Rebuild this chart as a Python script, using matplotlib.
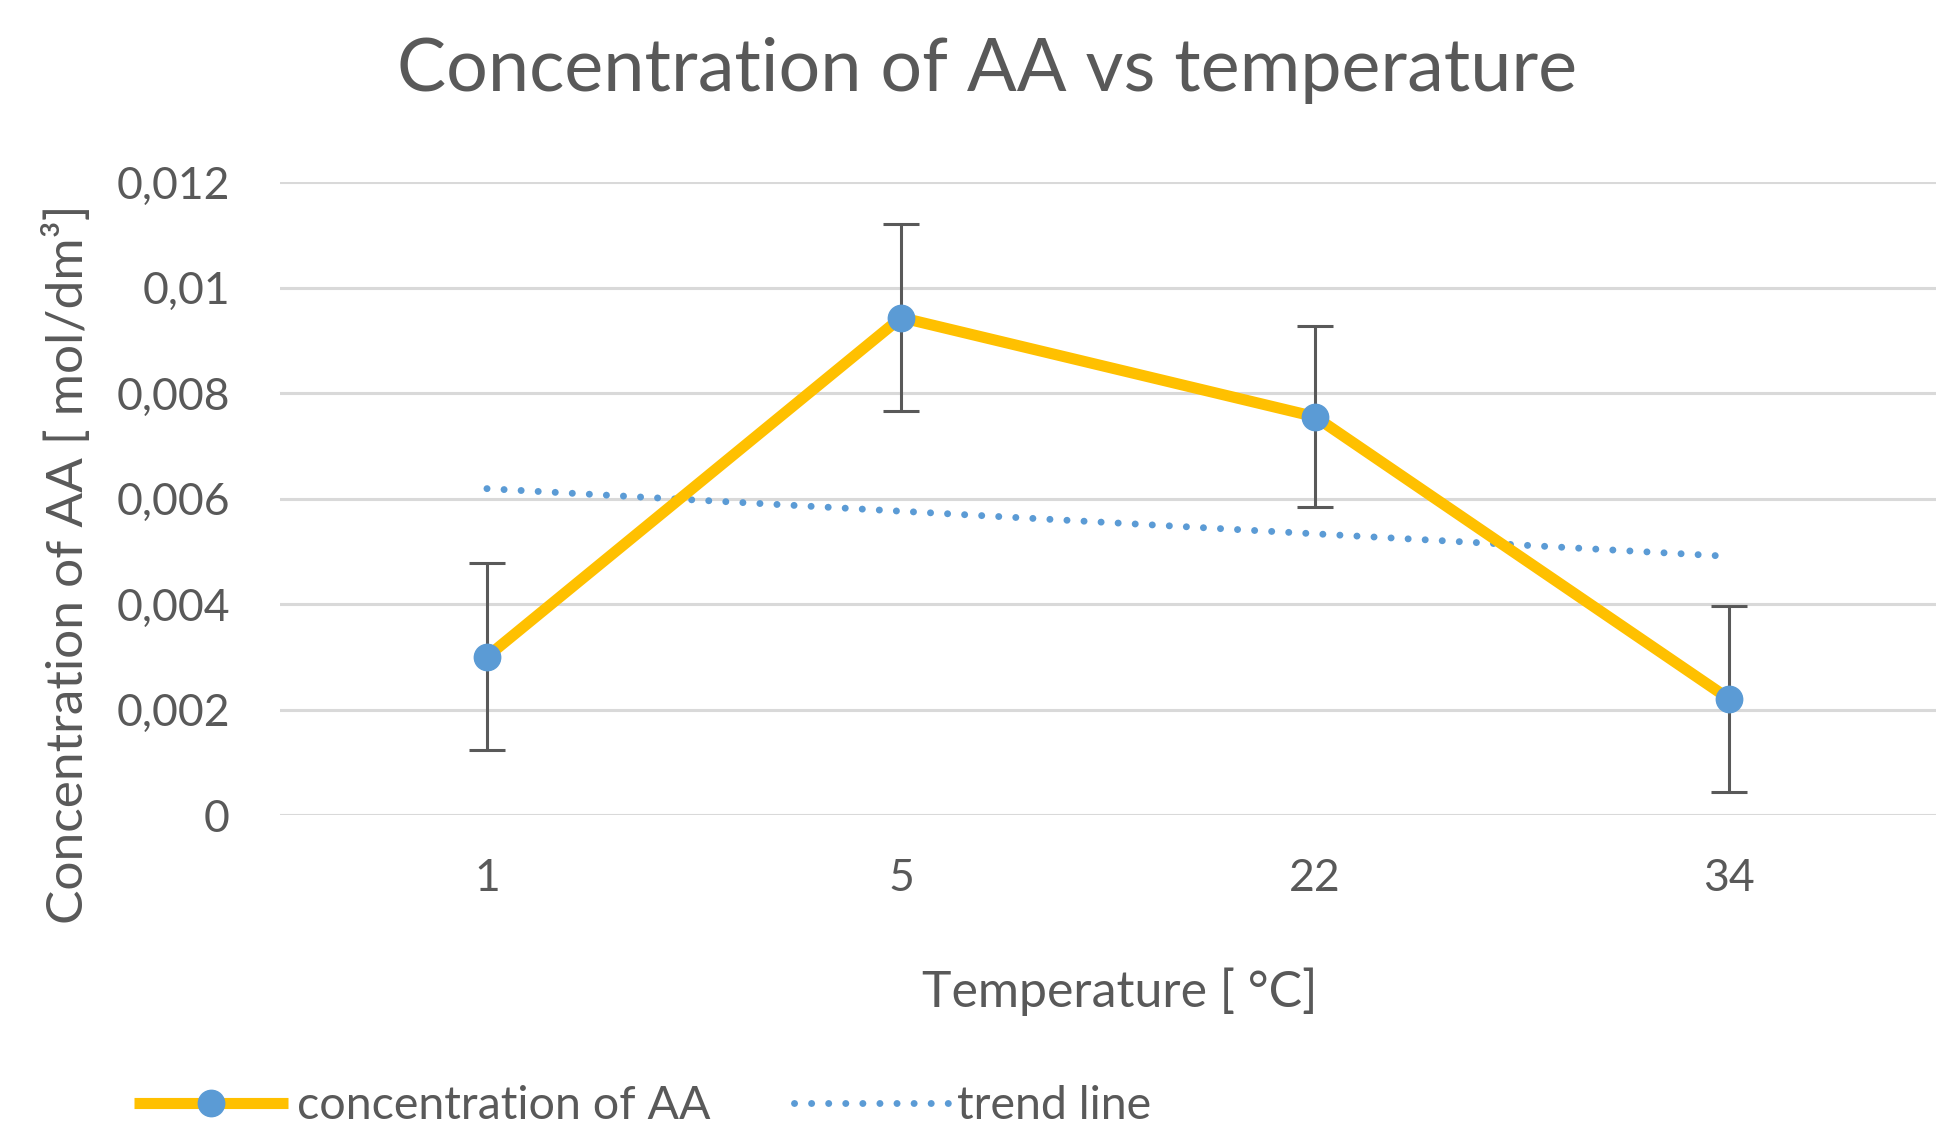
import numpy as np
import matplotlib
matplotlib.use("Agg")
import matplotlib.pyplot as plt
from matplotlib.ticker import FuncFormatter

plt.rcParams['font.family'] = ['Lato', 'DejaVu Sans']

temperatures = ["1", "5", "22", "34"]
concentration = [0.0030, 0.00943, 0.00755, 0.0022]
errors = [0.00177, 0.00177, 0.00172, 0.00177]

grey_text = "#595959"
yellow = "#FFC000"
blue = "#5B9BD5"

fig = plt.figure(figsize=(19.44, 11.34), dpi=100)
ax = fig.add_axes([0.144, 0.2813, 0.852, 0.5582])

x = np.arange(1, len(temperatures) + 1)

ax.errorbar(x, concentration, yerr=errors, fmt="none", ecolor=grey_text,
            elinewidth=2.2, capsize=13, capthick=2.2, zorder=3)
line, = ax.plot(x, concentration, color=yellow, lw=8, marker="o",
                markersize=19, markerfacecolor=blue, markeredgecolor=blue,
                solid_capstyle="butt", zorder=4, label="concentration of AA")

# linear trend of the series
coef = np.polyfit(x, concentration, 1)
trend, = ax.plot(x, np.polyval(coef, x), color=blue, lw=5,
                 linestyle=(0, (0.01, 2.45)), dash_capstyle="round",
                 zorder=2, label="trend line")

ax.set_xlim(0.5, len(temperatures) + 0.5)
ax.set_ylim(0, 0.012)
ax.set_yticks(np.arange(0, 0.0121, 0.002))
ax.yaxis.set_major_formatter(FuncFormatter(lambda v, p: f"{round(v, 4):g}".replace(".", ",")))
ax.set_xticks(x)
ax.set_xticklabels(temperatures)

ax.grid(axis="y", color="#D9D9D9", lw=2.2)
ax.set_axisbelow(True)
for s in ax.spines.values():
    s.set_visible(False)
ax.tick_params(axis="both", length=0, labelsize=32, colors=grey_text)
ax.tick_params(axis="x", pad=31)
ax.tick_params(axis="y", pad=36)

fig.text(0.508, 0.938, "Concentration of AA vs temperature", ha="center", va="center",
         fontsize=53, color=grey_text)
fig.text(0.576, 1 - 992 / 1134, "Temperature [ °C]", ha="center", va="center",
         fontsize=36, color=grey_text)
fig.text(68 / 1944, 1 - 564 / 1134, "Concentration of AA [ mol/dm³]", ha="center",
         va="center", rotation=90, fontsize=37, color=grey_text)

fig.legend(handles=[line, trend], loc="center left",
           bbox_to_anchor=(134 / 1944, 1 - 1106 / 1134), ncol=2, frameon=False,
           fontsize=33.5, labelcolor=grey_text, handlelength=3.3, handletextpad=0.2,
           columnspacing=1.8, borderpad=0, borderaxespad=0)

fig.savefig("out.png", dpi=100)
